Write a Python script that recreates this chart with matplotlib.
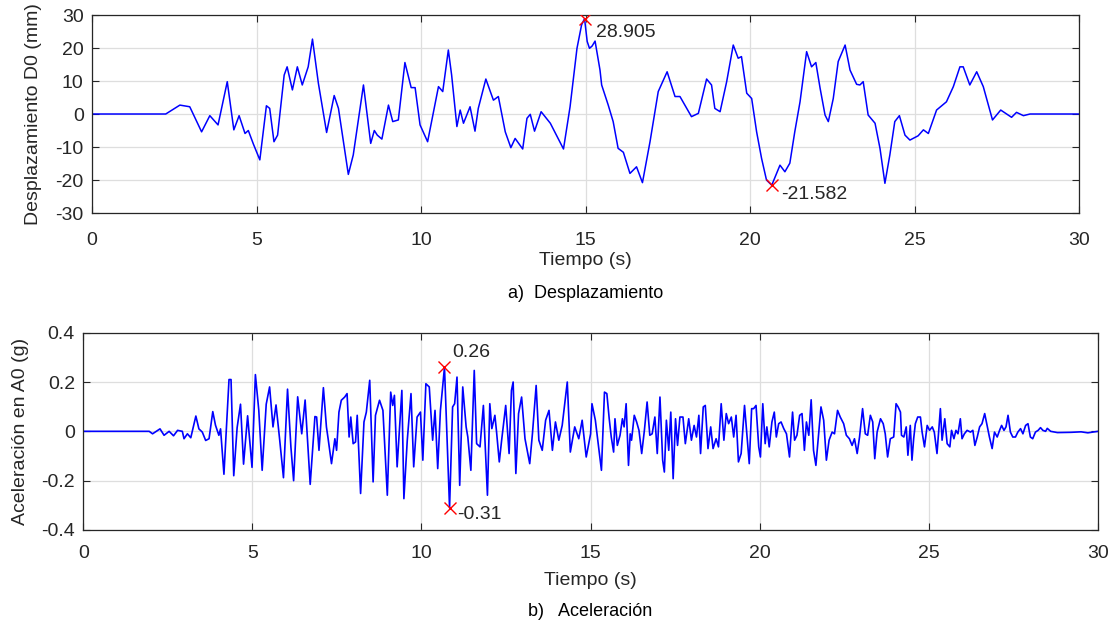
import matplotlib
matplotlib.use("Agg")
import matplotlib.pyplot as plt
import numpy as np

plt.rcParams['font.family'] = ['Liberation Sans', 'DejaVu Sans']
plt.rcParams['axes.unicode_minus'] = False

# displacement record D0 (mm)
disp_t = [0, 2.24, 2.67, 2.97, 3.33, 3.58, 3.83, 4.11, 4.31, 4.47, 4.65, 4.75, 4.9, 5.1, 5.3, 5.4,
          5.53, 5.64, 5.84, 5.93, 6.09, 6.24, 6.39, 6.57, 6.7, 6.88, 7.13, 7.36, 7.49, 7.79, 7.94,
          8.25, 8.47, 8.58, 8.67, 8.81, 9.01, 9.14, 9.31, 9.51, 9.7, 9.82, 9.97, 10.2, 10.53, 10.66,
          10.83, 10.93, 11.09, 11.19, 11.29, 11.49, 11.64, 11.74, 11.97, 12.2, 12.35, 12.56, 12.73,
          12.86, 13.09, 13.22, 13.32, 13.45, 13.65, 13.93, 14.33, 14.53, 14.74, 14.88, 14.97, 15.05,
          15.12, 15.2, 15.29, 15.44, 15.49, 15.69, 15.84, 15.99, 16.15, 16.35, 16.55, 16.73, 16.96,
          17.21, 17.48, 17.72, 17.87, 18.22, 18.43, 18.68, 18.83, 18.93, 19.09, 19.29, 19.49, 19.64,
          19.74, 19.9, 20.05, 20.2, 20.35, 20.5, 20.66, 20.91, 21.06, 21.21, 21.36, 21.52, 21.72,
          21.87, 22.0, 22.13, 22.28, 22.38, 22.53, 22.68, 22.89, 23.04, 23.24, 23.34, 23.44, 23.59,
          23.8, 23.95, 24.1, 24.25, 24.4, 24.54, 24.71, 24.86, 25.11, 25.27, 25.42, 25.67, 25.97,
          26.18, 26.38, 26.48, 26.68, 26.89, 27.09, 27.37, 27.62, 27.95, 28.1, 28.31, 28.51, 30]
disp_v = [0, 0, 2.7, 2.2, -5.4, -0.5, -3.3, 9.8, -4.8, -0.5, -5.9, -5.0, -9.0, -13.9, 2.5, 1.7,
          -8.4, -6.4, 11.8, 14.3, 7.3, 14.3, 8.8, 14.3, 22.7, 9.3, -5.6, 5.6, 1.7, -18.3, -12.4,
          8.8, -8.9, -5.0, -6.4, -7.6, 2.7, -2.3, -1.8, 15.6, 8.0, 8.0, -3.3, -8.4, 8.3, 6.8,
          19.4, 11.8, -3.8, 1.2, -2.8, 2.2, -5.2, 1.7, 10.6, 4.2, 5.3, -5.4, -10.2,
          -7.4, -10.6, -1.3, -0.1, -5.2, 0.7, -2.8, -10.6, 2.2, 19.9, 27.0, 28.905, 22.0,
          19.9, 20.6, 22.1, 13.3, 8.8, 2.7, -2.3, -10.4, -11.6, -18.0, -16.0, -20.8, -8.4,
          6.8, 12.8, 5.3, 5.3, -0.8, 0.2, 10.6, 8.8, 1.7, 0.7, 9.8, 20.9, 16.9,
          17.4, 6.3, 4.7, -5.4, -13.4, -20.0, -21.582, -15.5, -17.5, -14.9, -5.4, 3.7, 18.9,
          14.3, 15.6, 7.8, -0.3, -2.3, 4.7, 15.9, 20.9, 13.3, 9.0, 8.8, 9.8, -0.3,
          -2.8, -10.4, -21.0, -12.4, -2.3, -0.5, -6.4, -7.9, -6.6, -4.8, -5.9, 1.2, 3.7,
          8.3, 14.3, 14.3, 8.8, 12.8, 8.3, -1.8, 1.2, -1.0, 0.5, -0.5, 0, 0]

# acceleration record A0 (g)
acc_t = [0, 1.95, 2.05, 2.27, 2.39, 2.54, 2.67, 2.79, 2.93, 2.98, 3.08, 3.18, 3.33, 3.42, 3.52,
         3.62, 3.72, 3.83, 3.91, 4.01, 4.06, 4.16, 4.31, 4.37, 4.45, 4.55, 4.65, 4.74, 4.86, 4.99,
         5.09, 5.19, 5.29, 5.41, 5.51, 5.61, 5.7, 5.81, 5.92, 6.04, 6.14, 6.22, 6.34, 6.46, 6.56,
         6.71, 6.85, 6.9, 6.97, 7.10, 7.19, 7.24, 7.34, 7.44, 7.49, 7.56, 7.63, 7.73, 7.8, 7.86,
         7.91, 7.98, 8.05, 8.1, 8.2, 8.3, 8.37, 8.47, 8.57, 8.64, 8.76, 8.86, 8.99, 9.09, 9.15,
         9.2, 9.28, 9.42, 9.48, 9.58, 9.69, 9.77, 9.87, 9.97, 10.04, 10.13, 10.23, 10.33, 10.4,
         10.48, 10.56, 10.68, 10.83, 10.92, 10.98, 11.05, 11.13, 11.22, 11.32, 11.37, 11.46, 11.56,
         11.63, 11.73, 11.83, 11.95, 12.02, 12.08, 12.17, 12.22, 12.3, 12.37, 12.49, 12.59, 12.66,
         12.71, 12.79, 12.87, 12.96, 13.06, 13.2, 13.28, 13.39, 13.47, 13.57, 13.67, 13.77, 13.87,
         13.96, 14.06, 14.16, 14.31, 14.40, 14.53, 14.65, 14.75, 14.87, 15.0, 15.04, 15.14, 15.32,
         15.41, 15.48, 15.55, 15.61, 15.68, 15.72, 15.79, 15.87, 15.94, 15.99, 16.05, 16.12, 16.17,
         16.21, 16.29, 16.36, 16.43, 16.51, 16.59, 16.67, 16.75, 16.82, 16.9, 16.97, 17.05, 17.13,
         17.18, 17.24, 17.31, 17.37, 17.44, 17.51, 17.57, 17.64, 17.73, 17.8, 17.9, 17.98, 18.06,
         18.13, 18.2, 18.25, 18.33, 18.39, 18.47, 18.55, 18.62, 18.71, 18.78, 18.86, 18.94, 19.01,
         19.08, 19.16, 19.23, 19.3, 19.37, 19.45, 19.55, 19.63, 19.69, 19.76, 19.82, 19.89, 19.97,
         20.02, 20.09, 20.16, 20.21, 20.28, 20.36, 20.43, 20.49, 20.56, 20.63, 20.71, 20.79, 20.88,
         20.97, 21.03, 21.1, 21.18, 21.25, 21.32, 21.38, 21.45, 21.52, 21.59, 21.66, 21.74, 21.81,
         21.89, 21.97, 22.05, 22.14, 22.21, 22.3, 22.38, 22.48, 22.56, 22.65, 22.73, 22.8, 22.88,
         22.95, 23.04, 23.12, 23.19, 23.27, 23.34, 23.4, 23.47, 23.57, 23.65, 23.71, 23.78, 23.86,
         23.96, 24.03, 24.09, 24.16, 24.19, 24.26, 24.33, 24.38, 24.45, 24.5, 24.55, 24.6, 24.67,
         24.75, 24.8, 24.87, 24.95, 25.02, 25.1, 25.16, 25.24, 25.34, 25.39, 25.47, 25.54, 25.62,
         25.67, 25.74, 25.8, 25.86, 25.93, 25.98, 26.05, 26.13, 26.23, 26.3, 26.36, 26.43, 26.5,
         26.57, 26.65, 26.72, 26.79, 26.87, 26.94, 27.02, 27.09, 27.15, 27.22, 27.28, 27.34, 27.41,
         27.48, 27.56, 27.63, 27.71, 27.78, 27.86, 27.93, 28.0, 28.07, 28.15, 28.23, 28.3, 28.37,
         28.45, 28.5, 28.6, 28.8, 29.2, 29.5, 29.7, 30]
acc_v = [0, 0, -0.01, 0.01, -0.016, 0, -0.018, 0.004, 0, -0.03, -0.01, -0.026, 0.062, 0.01, -0.003,
         -0.037, -0.03, 0.08, 0.025, -0.016, 0.01, -0.174, 0.21, 0.21, -0.18, 0.015, 0.11, -0.133, 0.063, -0.146,
         0.23, 0.086, -0.158, 0.11, 0.18, 0.018, 0.107, -0.037, -0.188, 0.171, -0.064, -0.2, 0.14, -0.01, 0.127,
         -0.215, 0.06, 0.058, -0.077, 0.177, 0.018, -0.03, -0.131, -0.03, -0.077, 0.078, 0.126, 0.139, 0.153, -0.023,
         0.058, -0.05, -0.043, 0.065, -0.252, 0.038, 0.078, 0.207, -0.205, 0.065, 0.126, 0.085, -0.259, 0.159, 0.105,
         0.146, -0.144, 0.166, -0.273, -0.036, 0.153, -0.144, 0.058, 0.078, -0.117, 0.193, 0.18, -0.036, 0.085,
         -0.151, 0.085, 0.26, -0.31, 0.099, 0.112, 0.22, -0.219, 0.18, 0.018, -0.023, -0.158, 0.247,
         -0.05, -0.063, 0.105, -0.259, 0.112, 0.011, 0.065, -0.003, -0.124, -0.036, 0.105, -0.09, 0.166,
         0.2, -0.171, 0.072, 0.139, -0.03, -0.131, -0.01, 0.186, -0.036, -0.077, 0.045, 0.085, -0.077,
         0.038, -0.036, 0.024, 0.2, -0.084, 0.018, -0.03, 0.045, -0.104, -0.01, 0.112, 0.045, -0.158,
         0.159, 0.153, 0.051, -0.023, -0.084, 0.051, -0.057, -0.016, 0.051, 0.018, 0.112, -0.138, -0.01,
         -0.036, 0.065, 0.038, 0.004, -0.09, 0.004, 0.119, -0.016, -0.01, 0.058, -0.09, 0.139, -0.117,
         -0.165, 0.045, -0.077, 0.078, -0.192, 0.051, -0.057, 0.058, 0.058, -0.05, 0.051, -0.036, 0.024,
         -0.023, 0.065, -0.09, 0.099, 0.105, -0.07, 0.018, -0.07, -0.03, -0.063, 0.112, -0.036, 0.072,
         0.031, 0.058, -0.023, 0.065, -0.124, -0.09, 0.105, -0.03, -0.131, 0.092, 0.092, 0.105, -0.063,
         -0.104, 0.112, -0.05, 0.018, -0.063, 0.038, 0.078, -0.023, 0.031, 0.038, 0.011, -0.01, -0.104,
         0.078, -0.036, -0.016, 0.065, 0.072, -0.077, 0.038, -0.016, 0.128, -0.077, -0.138, -0.01, 0.099,
         0.045, -0.117, -0.036, -0.003, -0.01, 0.085, 0.058, 0.031, -0.016, -0.03, -0.057, -0.03, -0.09,
         -0.023, 0.092, -0.01, -0.016, 0.065, 0.038, -0.111, -0.003, 0.051, 0.031, -0.01, -0.104, -0.03,
         -0.023, 0.112, 0.099, 0.078, -0.016, -0.023, 0.018, -0.097, 0.024, -0.117, -0.03, 0.031, 0.058,
         0.058, -0.003, -0.063, 0.024, 0.004, 0.018, -0.003, -0.09, 0.092, -0.036, 0.051, -0.05, -0.063,
         0.004, -0.03, 0.004, -0.01, 0.051, -0.03, -0.01, 0.004, -0.003, 0.004, -0.057, -0.023, 0.018,
         0.031, 0.072, 0.024, -0.023, -0.07, -0.003, -0.023, 0.004, 0.024, 0.004, 0.018, 0.065, -0.003,
         -0.023, -0.023, -0.003, 0.011, -0.01, 0.024, 0.031, -0.023, -0.03, -0.003, 0.004, 0.015, 0.004,
         0, 0.012, 0.0, -0.005, -0.004, -0.002, -0.006, 0]

GRAY = '#262626'
FS = 14


def style_axes(ax, yticks, xpad, xlabelpad, ylabelpad):
    ax.set_xlim(0, 30)
    ax.set_xticks([0, 5, 10, 15, 20, 25, 30])
    ax.set_yticks(yticks)
    ax.set_ylim(yticks[0], yticks[-1])
    ax.grid(True, color='#dedede', linewidth=0.9)
    ax.set_axisbelow(True)
    for s in ax.spines.values():
        s.set_color(GRAY)
        s.set_linewidth(0.9)
    ax.tick_params(direction='in', length=5, top=True, right=True, color=GRAY,
                   labelcolor=GRAY, labelsize=FS)
    ax.tick_params(axis='x', pad=xpad)
    ax.tick_params(axis='y', pad=6)
    ax.xaxis.labelpad = xlabelpad
    ax.yaxis.labelpad = ylabelpad


def mark_peaks(ax, t, v, fmt, off_max, off_min):
    t = np.asarray(t)
    v = np.asarray(v)
    for i, off in ((np.argmax(v), off_max), (np.argmin(v), off_min)):
        ax.plot(t[i], v[i], 'x', color='red', markersize=9, markeredgewidth=1.0, zorder=5)
        ax.annotate(fmt.format(v[i]), (t[i], v[i]), xytext=off, textcoords='offset points',
                    fontsize=FS, color=GRAY, va='center', ha='left')


fig = plt.figure(figsize=(11.17, 6.23), dpi=100)

# a) displacement
ax1 = fig.add_axes([0.0824, 0.6581, 0.8836, 0.3178])
ax1.plot(disp_t, disp_v, color='blue', linewidth=1.1)
ax1.set_xlabel('Tiempo (s)', fontsize=FS, color=GRAY)
ax1.set_ylabel('Desplazamiento D0 (mm)', fontsize=FS, color=GRAY)
style_axes(ax1, [-30, -20, -10, 0, 10, 20, 30], xpad=14, xlabelpad=2, ylabelpad=10)
mark_peaks(ax1, disp_t, disp_v, '{:.3f}', (8, -10), (7, -7))

# b) acceleration
ax2 = fig.add_axes([0.0745, 0.1493, 0.9085, 0.3167])
ax2.plot(acc_t, acc_v, color='blue', linewidth=1.2)
ax2.set_xlabel('Tiempo (s)', fontsize=FS, color=GRAY)
ax2.set_ylabel('Aceleración en A0 (g)', fontsize=FS, color=GRAY)
style_axes(ax2, [-0.4, -0.2, 0, 0.2, 0.4], xpad=11, xlabelpad=7, ylabelpad=9)
ax2.set_yticklabels(['-0.4', '-0.2', '0', '0.2', '0.4'])
mark_peaks(ax2, acc_t, acc_v, '{:.2f}', (5.3, 10.8), (5.3, -4.8))

fig.text(0.524, 0.529, 'a)  Desplazamiento', fontsize=13, ha='center', va='center', color='black')
fig.text(0.528, 0.019, 'b)   Aceleración', fontsize=13, ha='center', va='center', color='black')

fig.savefig('out.png', dpi=100)
